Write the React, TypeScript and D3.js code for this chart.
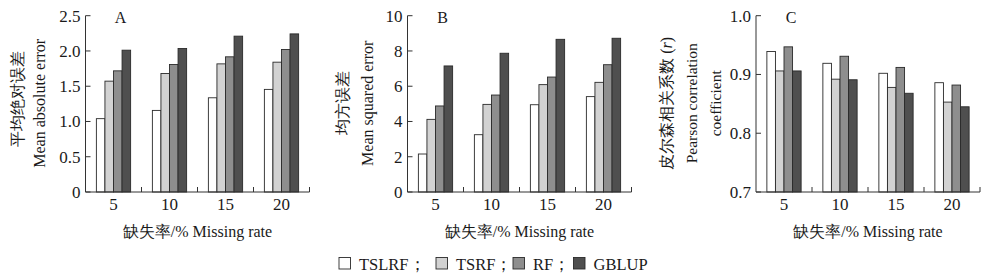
import React from "react";
import * as d3 from "d3";

const categories = ["5", "10", "15", "20"];
const seriesNames = ["TSLRF", "TSRF", "RF", "GBLUP"];

// Panel A: Mean absolute error
const maeTSLRF = [1.04, 1.157, 1.336, 1.455];
const maeTSRF = [1.572, 1.681, 1.817, 1.841];
const maeRF = [1.718, 1.808, 1.917, 2.021];
const maeGBLUP = [2.011, 2.035, 2.21, 2.242];

// Panel B: Mean squared error
const mseTSLRF = [2.155, 3.25, 4.95, 5.41];
const mseTSRF = [4.12, 4.97, 6.09, 6.22];
const mseRF = [4.88, 5.5, 6.52, 7.22];
const mseGBLUP = [7.15, 7.87, 8.66, 8.72];

// Panel C: Pearson correlation
const rTSLRF = [0.939, 0.919, 0.902, 0.886];
const rTSRF = [0.906, 0.892, 0.878, 0.853];
const rRF = [0.947, 0.931, 0.912, 0.882];
const rGBLUP = [0.906, 0.891, 0.868, 0.845];

const ticksA = [0, 0.5, 1.0, 1.5, 2.0, 2.5];
const ticksB = [0, 2, 4, 6, 8, 10];
const ticksC = [0.7, 0.8, 0.9, 1.0];

const colors = ["#ffffff", "#d2d2d2", "#8e8e8e", "#4f4f4f"];

const FONT = '"Liberation Serif", "Times New Roman", Times, "DejaVu Serif", serif';
const TXT = "#1a1a1a";
const AX = "#333";

type PanelProps = {
  x0: number;
  domain: [number, number];
  ticks: number[];
  fmt: (v: number) => string;
  series: number[][];
  letter: string;
};

const Y_TOP = 15.7;
const Y_BOT = 192;
const BAND_W = 224;

function Panel({ x0, domain, ticks, fmt, series, letter }: PanelProps) {
  const y = d3.scaleLinear().domain(domain).range([Y_BOT, Y_TOP]);
  const x = d3.scaleBand<string>().domain(categories).range([x0, x0 + BAND_W]).padding(0);
  const inner = d3
    .scaleBand<string>()
    .domain(seriesNames)
    .range([0, x.bandwidth()])
    .paddingInner(0)
    .paddingOuter(1.27);
  return (
    <g>
      {categories.map((c, ci) =>
        seriesNames.map((s, si) => {
          const v = series[si][ci];
          const bx = (x(c) as number) + (inner(s) as number);
          return (
            <rect
              key={c + s}
              x={bx}
              y={y(v)}
              width={inner.bandwidth()}
              height={Y_BOT - y(v)}
              fill={colors[si]}
              stroke="#2a2a2a"
              strokeWidth={0.9}
            />
          );
        })
      )}
      <line x1={x0} x2={x0} y1={Y_TOP} y2={Y_BOT} stroke={AX} strokeWidth={1} />
      {ticks.map((t) => (
        <g key={t}>
          <line x1={x0} x2={x0 + 5} y1={y(t)} y2={y(t)} stroke={AX} strokeWidth={1} />
          <text
            x={x0 - 5}
            y={y(t)}
            dy="0.35em"
            textAnchor="end"
            fontSize={17}
            fill={TXT}
            style={{ fontFamily: FONT }}
          >
            {fmt(t)}
          </text>
        </g>
      ))}
      <line x1={x0} x2={x0 + BAND_W} y1={Y_BOT} y2={Y_BOT} stroke={AX} strokeWidth={1} />
      {categories.map((c) => (
        <g key={c}>
          <line
            x1={(x(c) as number) + x.bandwidth()}
            x2={(x(c) as number) + x.bandwidth()}
            y1={Y_BOT}
            y2={Y_BOT - 5}
            stroke={AX}
            strokeWidth={1}
          />
          <text
            x={(x(c) as number) + x.bandwidth() / 2}
            y={209.5}
            textAnchor="middle"
            fontSize={17}
            fill={TXT}
            style={{ fontFamily: FONT }}
          >
            {c}
          </text>
        </g>
      ))}
      <text
        x={x0 + BAND_W / 2}
        y={237}
        textAnchor="middle"
        fontSize={16}
        fill={TXT}
        style={{ fontFamily: FONT }}
      >
        缺失率/% Missing rate
      </text>
      <text x={x0 + 35} y={23} textAnchor="middle" fontSize={16} fill={TXT} style={{ fontFamily: FONT }}>
        {letter}
      </text>
    </g>
  );
}

function VLabel({ x, y, children, size = 16 }: { x: number; y: number; children: React.ReactNode; size?: number }) {
  return (
    <text
      transform={`translate(${x},${y}) rotate(-90)`}
      textAnchor="middle"
      fontSize={size}
      fill={TXT}
      style={{ fontFamily: FONT }}
    >
      {children}
    </text>
  );
}

export default function App() {
  const f1 = (v: number) => (v === 0 ? "0" : d3.format(".1f")(v));
  const f0 = (v: number) => d3.format("d")(v);
  const legendX = [339, 436, 513, 573.5];
  return (
    <svg
      width={992}
      height={280}
      style={{ position: "absolute", left: 0, top: 0, background: "#fff" }}
    >
      <rect x={0} y={0} width={992} height={280} fill="#fff" />
      <Panel
        x0={85.5}
        domain={[0, 2.5]}
        ticks={ticksA}
        fmt={f1}
        series={[maeTSLRF, maeTSRF, maeRF, maeGBLUP]}
        letter="A"
      />
      <Panel
        x0={407.5}
        domain={[0, 10]}
        ticks={ticksB}
        fmt={f0}
        series={[mseTSLRF, mseTSRF, mseRF, mseGBLUP]}
        letter="B"
      />
      <Panel
        x0={756}
        domain={[0.7, 1.0]}
        ticks={ticksC}
        fmt={(v) => d3.format(".1f")(v)}
        series={[rTSLRF, rTSRF, rRF, rGBLUP]}
        letter="C"
      />
      <VLabel x={22.5} y={99}>平均绝对误差</VLabel>
      <VLabel x={45} y={103.3}>Mean absolute error</VLabel>
      <VLabel x={348} y={103.3}>均方误差</VLabel>
      <VLabel x={372.5} y={103.3}>Mean squared error</VLabel>
      <VLabel x={671.5} y={103.3}>
        皮尔森相关系数 (<tspan fontStyle="italic">r</tspan>)
      </VLabel>
      <VLabel x={696.5} y={103.3} size={15.5}>Pearson correlation</VLabel>
      <VLabel x={721} y={103.3} size={15.5}>coefficient</VLabel>
      {seriesNames.map((s, i) => (
        <g key={s}>
          <rect
            x={legendX[i]}
            y={257.5}
            width={11.5}
            height={11.5}
            fill={colors[i]}
            stroke="#2a2a2a"
            strokeWidth={0.9}
          />
          <text
            x={legendX[i] + 20}
            y={269.5}
            fontSize={16.5}
            fill={TXT}
            style={{ fontFamily: FONT }}
          >
            {i < seriesNames.length - 1 ? s + "；" : s}
          </text>
        </g>
      ))}
    </svg>
  );
}
